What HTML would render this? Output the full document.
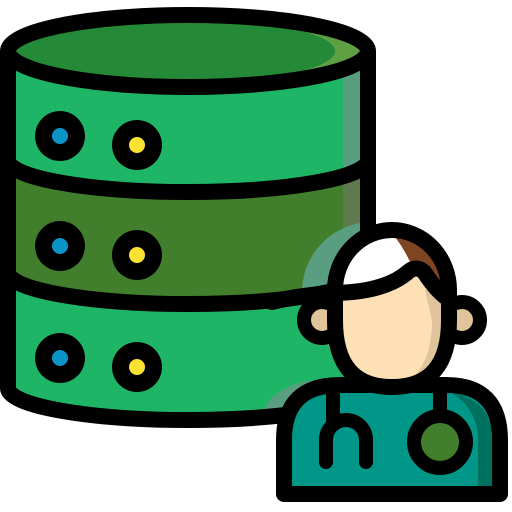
<!DOCTYPE html>
<html><head><style>html,body{margin:0;padding:0;background:#fff}svg{display:block}</style></head>
<body>
<svg width="512" height="512" viewBox="0 0 512 512" xmlns="http://www.w3.org/2000/svg">
<defs>
<clipPath id="cyl"><path d="M8,51 L368,51 L368,388 A180,32 0 0 1 8,388 Z"/></clipPath>
<clipPath id="top"><ellipse cx="188" cy="51" rx="172" ry="34"/></clipPath>
</defs>
<g clip-path="url(#cyl)">
<rect x="0" y="40" width="380" height="400" fill="#1fb566"/>
<path d="M8,160 A180,32 0 0 0 368,160 L368,272 A180,32 0 0 1 8,272 Z" fill="#427f2c"/>
<rect x="343" y="60" width="30" height="380" fill="#5a9e82"/>
<path d="M343,170 L373,160 L373,278 L343,285Z" fill="#5f7a4f"/>
<circle cx="372" cy="292" r="70" fill="#5a9e82"/>
<rect x="262" y="380" width="200" height="80" rx="60" fill="#5a9e82"/>
</g>
<ellipse cx="188" cy="51" rx="172" ry="34" fill="#258a38"/>
<g clip-path="url(#top)">
<ellipse cx="190" cy="51" rx="150" ry="30" fill="#5fa045" transform="translate(22,0)"/>
<ellipse cx="185" cy="51" rx="150" ry="32" fill="#258a38"/>
</g>
<g fill="none" stroke="#000" stroke-width="16" stroke-linejoin="round">
<ellipse cx="188" cy="51" rx="180" ry="36"/>
<path d="M8,51 L8,388 A180,32 0 0 0 368,388 L368,51"/>
<path d="M8,160 A180,32 0 0 0 368,160"/>
<path d="M8,272 A180,32 0 0 0 368,272"/>
</g>
<g>
<circle cx="60" cy="136" r="25" fill="#000"/><circle cx="60" cy="136" r="8" fill="#0a94c8"/>
<circle cx="137" cy="145" r="25" fill="#000"/><circle cx="137" cy="145" r="8" fill="#fde234"/>
<circle cx="60" cy="246" r="25" fill="#000"/><circle cx="60" cy="246" r="8" fill="#0a94c8"/>
<circle cx="137" cy="255" r="25" fill="#000"/><circle cx="137" cy="255" r="8" fill="#fde234"/>
<circle cx="60" cy="358" r="25" fill="#000"/><circle cx="60" cy="358" r="8" fill="#0a94c8"/>
<circle cx="137" cy="367" r="25" fill="#000"/><circle cx="137" cy="367" r="8" fill="#fde234"/>
</g>
<path d="M284,494 L284,440 Q284,385 340,385 L446,385 Q500,385 500,440 L500,494 Z" fill="#009688" stroke="#000" stroke-width="16" stroke-linejoin="round"/>
<path d="M452,393 Q492,400 492,440 L492,486 L478,486 L478,440 Q478,410 452,393Z" fill="#00705f"/>
<circle cx="322" cy="320" r="18" fill="#dfc49c" stroke="#000" stroke-width="14"/>
<circle cx="462" cy="320" r="18" fill="#dfc49c" stroke="#000" stroke-width="14"/>
<path d="M335,290 A57,60 0 0 1 449,290 L449,320 Q449,387 392,387 Q335,387 335,320 Z" fill="#fde0b5"/>
<path d="M425,290 L449,290 L449,320 Q449,380 400,387 Q432,370 432,320Z" fill="#dfc49c"/>
<path d="M335,290 A57,58 0 0 1 449,290 L449,300 Q430,295 410,270 Q380,292 335,292Z" fill="#fff"/>
<path d="M395,237 A57,58 0 0 1 449,290 L449,300 Q430,295 413,268 Q405,250 395,237Z" fill="#7f4422"/>
<path d="M335,290 A57,60 0 0 1 449,290 L449,320 Q449,387 392,387 Q335,387 335,320 Z" fill="none" stroke="#000" stroke-width="16"/>
<path d="M272,302 Q300,295 335,293 Q385,292 408,272 Q416,265 424,272 Q438,293 450,300" fill="none" stroke="#000" stroke-width="16" stroke-linecap="round" stroke-linejoin="round"/>
<g fill="none" stroke="#000" stroke-width="14" stroke-linecap="round">
<path d="M333,390 L333,420"/>
<path d="M326,462 L326,440 A20,20 0 0 1 366,440 L366,462"/>
<path d="M440,390 L440,420"/>
</g>
<circle cx="440" cy="442" r="26" fill="#427f2c" stroke="#000" stroke-width="14"/>
</svg>
</body></html>
